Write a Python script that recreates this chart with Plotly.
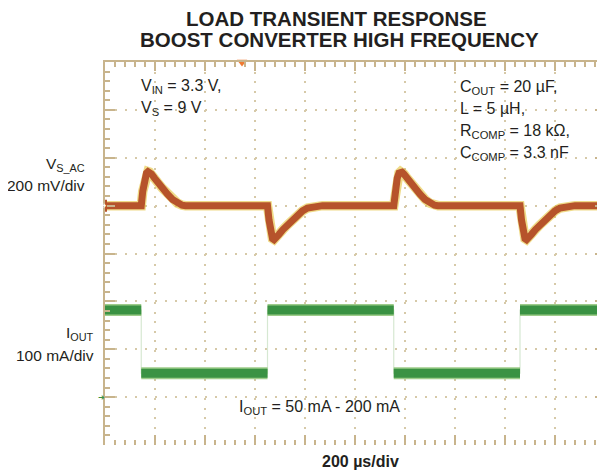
import plotly.graph_objects as go

# ---------------- data ----------------
# time axis: 200 us/div, 10 divisions
TIME_RANGE_US = [0, 2000]
# VS_AC channel: 200 mV/div, ground marker one division above centre
VS_RANGE_MV = [-1000, 600]
VS_T_US = [0, 145, 151, 159, 166, 172, 178, 186, 198, 212, 230, 250, 270, 290, 308, 322,
           650, 656, 664, 670, 676, 684, 696, 712, 730, 750, 770, 790, 810, 840, 870,
           1155, 1161, 1169, 1176, 1182, 1188, 1196, 1208, 1222, 1240, 1260, 1280, 1300, 1318, 1332,
           1660, 1666, 1674, 1680, 1686, 1694, 1706, 1722, 1740, 1760, 1780, 1800, 1820, 1850, 1880, 2000]
VS_MV = [0, 0, 60, 115, 136, 142, 140, 132, 115, 95, 72, 48, 26, 10, 2, 0,
         0, -60, -118, -138, -142, -135, -120, -100, -80, -58, -38, -22, -10, -3, 0,
         0, 60, 115, 136, 142, 140, 132, 115, 95, 72, 48, 26, 10, 2, 0,
         0, -60, -118, -138, -142, -135, -120, -100, -80, -58, -38, -22, -10, -3, 0, 0]
# IOUT channel: 100 mA/div, ground marker three divisions below centre
I_RANGE_MA = [-100, 700]
I_EDGES_US = [0, 145, 650, 1155, 1660, 2000]
I_LEVELS_MA = [182, 50, 182, 50, 182]
TRIGGER_US = 548

TAN = "#c8b48c"
DOT = "#d6c9a8"
TXT = "#231f20"
FONT = "Liberation Sans, Arial, sans-serif"

# page body has an 8px margin: figure is sized so it ends at the window edge
BODY = 8
PLOT_L, PLOT_R, PLOT_T, PLOT_B = 105, 605, 62, 445   # page pixels

# ---------------- build traces ----------------
fig = go.Figure()

# VS_AC trace: yellow fringe + brown band
fig.add_trace(go.Scatter(x=VS_T_US, y=VS_MV, mode="lines", xaxis="x", yaxis="y",
                         line=dict(color="#e6c43a", width=9.5), opacity=0.6,
                         hoverinfo="skip", showlegend=False))
fig.add_trace(go.Scatter(x=VS_T_US, y=VS_MV, mode="lines", xaxis="x", yaxis="y",
                         line=dict(color="#b6532b", width=7),
                         hoverinfo="skip", showlegend=False))

# IOUT: faint transitions, then flat noisy bands
step_x, step_y = [], []
for i, lvl in enumerate(I_LEVELS_MA):
    step_x += [I_EDGES_US[i], I_EDGES_US[i + 1]]
    step_y += [lvl, lvl]
fig.add_trace(go.Scatter(x=step_x, y=step_y, mode="lines", xaxis="x", yaxis="y3",
                         line=dict(color="#d6e8d2", width=1.2),
                         hoverinfo="skip", showlegend=False))
seg_x, seg_y = [], []
for i, lvl in enumerate(I_LEVELS_MA):
    seg_x += [I_EDGES_US[i], I_EDGES_US[i + 1], None]
    seg_y += [lvl, lvl, None]
fig.add_trace(go.Scatter(x=seg_x, y=seg_y, mode="lines", xaxis="x", yaxis="y3",
                         line=dict(color="#86c06e", width=12), opacity=0.8,
                         hoverinfo="skip", showlegend=False))
fig.add_trace(go.Scatter(x=seg_x, y=seg_y, mode="lines", xaxis="x", yaxis="y3",
                         line=dict(color="#3a9243", width=9),
                         hoverinfo="skip", showlegend=False))

# trigger marker on top axis
fig.add_trace(go.Scatter(x=[TRIGGER_US], y=[VS_RANGE_MV[1]], mode="markers",
                         xaxis="x2", yaxis="y", cliponaxis=False,
                         marker=dict(symbol="triangle-down", size=9, color="#f07a32",
                                     line=dict(width=0)),
                         hoverinfo="skip", showlegend=False))
# invisible trace to realise right axis
fig.add_trace(go.Scatter(x=[TIME_RANGE_US[0]], y=[VS_RANGE_MV[0]], mode="markers",
                         xaxis="x", yaxis="y2", marker=dict(opacity=0),
                         hoverinfo="skip", showlegend=False))

# ---------------- axes ----------------
minor_ticks = dict(dtick=40, tick0=0, ticks="inside", ticklen=5,
                   tickcolor=TAN, tickwidth=2, showgrid=False)

W, H = 605 - BODY, 472 - BODY
fig.update_layout(
    width=W, height=H,
    margin=dict(l=PLOT_L - BODY, r=W - (PLOT_R - BODY), t=PLOT_T - BODY,
                b=H - (PLOT_B - BODY), autoexpand=False),
    paper_bgcolor="white", plot_bgcolor="white",
    font=dict(family=FONT, color=TXT),
    xaxis=dict(range=TIME_RANGE_US, dtick=200, tick0=0, ticks="inside", ticklen=10,
               tickwidth=2, tickcolor=TAN, showticklabels=False, showline=False,
               showgrid=True, gridcolor=DOT, gridwidth=1.5, griddash="2px,7.6px",
               zeroline=False, minor=minor_ticks, automargin=False),
    xaxis2=dict(range=TIME_RANGE_US, overlaying="x", side="top", anchor="y",
                dtick=200, tick0=0, ticks="inside", ticklen=9, tickwidth=2,
                tickcolor=TAN, showticklabels=False, showline=True, linecolor=TAN,
                linewidth=2, showgrid=False, zeroline=False, minor=minor_ticks,
                automargin=False),
    yaxis=dict(range=VS_RANGE_MV, dtick=200, tick0=0, ticks="inside", ticklen=10,
               tickwidth=2, tickcolor=TAN, showticklabels=False, showline=True,
               linecolor=TAN, linewidth=2, showgrid=True, gridcolor=DOT,
               gridwidth=1.5, griddash="2px,8px", zeroline=False,
               minor=minor_ticks, automargin=False),
    yaxis2=dict(range=VS_RANGE_MV, overlaying="y", side="right", anchor="x",
                dtick=200, tick0=0, ticks="inside", ticklen=10, tickwidth=2,
                tickcolor=TAN, showticklabels=False, showline=False,
                showgrid=False, zeroline=False, minor=minor_ticks, automargin=False),
    yaxis3=dict(range=I_RANGE_MA, overlaying="y", visible=False),
    showlegend=False,
)

# ground markers (channel reference arrows on left edge)
fig.add_shape(type="rect", xref="x", yref="y", xsizemode="pixel", ysizemode="pixel",
              xanchor=0, yanchor=0, x0=-8, x1=2, y0=-6, y1=6,
              fillcolor="#b6532b", line=dict(width=0), layer="above")
fig.add_annotation(x=0, y=0, xref="x", yref="y", text="→", showarrow=False,
                   xshift=-3, font=dict(size=10, color="white", family="DejaVu Sans"))
fig.add_annotation(x=0, y=0, xref="x", yref="y3", text="➜", showarrow=False,
                   xshift=-4, font=dict(size=8, color="#3a9243", family="DejaVu Sans"))


def pp(x, y):
    return (x - PLOT_L) / (PLOT_R - PLOT_L), (PLOT_B - y) / (PLOT_B - PLOT_T)


def label(text, x, y, anchor="left", size=16, bold=False):
    px_, py_ = pp(x, y)
    fig.add_annotation(x=px_, y=py_, xref="paper", yref="paper", text=text,
                       showarrow=False, xanchor=anchor, yanchor="middle",
                       font=dict(size=size, color=TXT, family=FONT,
                                 weight="bold" if bold else "normal"))


label("LOAD TRANSIENT RESPONSE", 336, 18, "center", 20.5, True)
label("BOOST CONVERTER HIGH FREQUENCY", 339, 40, "center", 20.5, True)

label("V<sub>S_AC</sub>", 87, 164, "right", 15.5)
label("200 mV/div", 87, 185, "right", 15.5)
label("I<sub>OUT</sub>", 96, 333, "right", 15.5)
label("100 mA/div", 96, 355, "right", 15.5)

label("V<sub>IN</sub> = 3.3 V,", 139, 86)
label("V<sub>S</sub> = 9 V", 139, 108)

label("C<sub>OUT</sub> = 20 µF,", 458, 87)
label("L = 5 µH,", 458, 108)
label("R<sub>COMP</sub> = 18 kΩ,", 458, 131)
label("C<sub>COMP</sub> = 3.3 nF", 458, 153)

label("I<sub>OUT</sub> = 50 mA - 200 mA", 237, 407)
label("200 µs/div", 360, 461, "center", 16, True)

fig.write_html("out.html")
